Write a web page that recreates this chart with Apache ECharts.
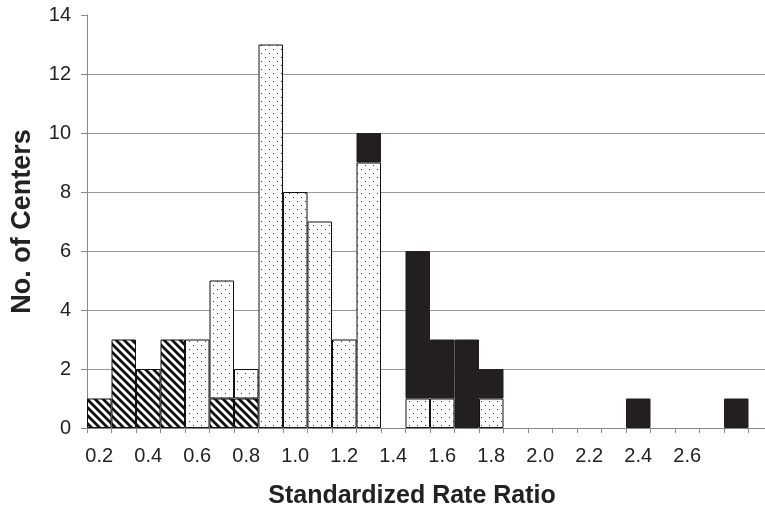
<!DOCTYPE html>
<html>
<head>
<meta charset="utf-8">
<script src="https://cdn.jsdelivr.net/npm/echarts@6/dist/echarts.min.js"></script>
<style>
    html, body { margin: 0; padding: 0; background: #fff; overflow: hidden; }
    #chart { width: 773px; height: 512px; }
</style>
</head>
<body>
<div id="chart"></div>
<script>
// bins of width 0.1, labelled by their centre
var bins = ['0.2', '0.3', '0.4', '0.5', '0.6', '0.7', '0.8', '0.9', '1.0', '1.1',
    '1.2', '1.3', '1.4', '1.5', '1.6', '1.7', '1.8', '1.9', '2.0', '2.1',
    '2.2', '2.3', '2.4', '2.5', '2.6', '2.7', '2.8', '2.9'];
var tickLabels = ['0.2', '0.4', '0.6', '0.8', '1.0', '1.2', '1.4', '1.6', '1.8', '2.0', '2.2', '2.4', '2.6'];

// counts per bin, stacked bottom to top
var hatched = [1, 3, 2, 3, 0, 1, 1, 0, 0, 0, 0, 0, 0, 0, 0, 0, 0, 0, 0, 0, 0, 0, 0, 0, 0, 0, 0, 0];
var dotted  = [0, 0, 0, 0, 3, 4, 1, 13, 8, 7, 3, 9, 0, 1, 1, 0, 1, 0, 0, 0, 0, 0, 0, 0, 0, 0, 0, 0];
var solid   = [0, 0, 0, 0, 0, 0, 0, 0, 0, 0, 0, 1, 0, 5, 2, 3, 1, 0, 0, 0, 0, 0, 1, 0, 0, 0, 1, 0];

function noZero(arr) {
    return arr.map(function (v) { return v === 0 ? null : v; });
}

function stripePattern() {
    var c = document.createElement('canvas');
    c.width = 8;
    c.height = 8;
    var ctx = c.getContext('2d');
    ctx.fillStyle = '#fff';
    ctx.fillRect(0, 0, 8, 8);
    ctx.strokeStyle = '#111';
    ctx.lineWidth = 2.8;
    ctx.beginPath();
    for (var k = -8; k <= 8; k += 8) {
        ctx.moveTo(k - 1, -1);
        ctx.lineTo(k + 9, 9);
    }
    ctx.stroke();
    return c;
}

function dotPattern() {
    var c = document.createElement('canvas');
    c.width = 8;
    c.height = 8;
    var ctx = c.getContext('2d');
    ctx.fillStyle = '#fff';
    ctx.fillRect(0, 0, 8, 8);
    ctx.fillStyle = '#333';
    ctx.fillRect(1, 1, 1, 1);
    ctx.fillRect(5, 5, 1, 1);
    return c;
}

var chart = echarts.init(document.getElementById('chart'));

var option = {
    animation: false,
    backgroundColor: '#fff',
    textStyle: { fontFamily: 'Liberation Sans, Arial, sans-serif' },
    grid: {
        left: 87,
        right: 0,
        top: 15,
        bottom: 84,
        containLabel: false,
        outerBoundsMode: 'none'
    },
    xAxis: {
        type: 'category',
        data: bins,
        boundaryGap: true,
        name: 'Standardized Rate Ratio',
        nameLocation: 'middle',
        nameGap: 56,
        nameTextStyle: {
            fontSize: 25,
            fontWeight: 'bold',
            color: '#222',
            padding: [0, 36, 0, 0]
        },
        axisLine: { lineStyle: { color: '#888', width: 1 } },
        axisTick: { show: true, interval: 0, length: 5, lineStyle: { color: '#888' } },
        axisLabel: {
            interval: 0,
            fontSize: 20,
            color: '#222',
            margin: 18,
            formatter: function (val) {
                return tickLabels.indexOf(val) >= 0 ? val : '';
            }
        },
        splitLine: { show: false }
    },
    yAxis: {
        type: 'value',
        min: 0,
        max: 14,
        interval: 2,
        name: 'No. of Centers',
        nameLocation: 'middle',
        nameGap: 51,
        nameTextStyle: {
            fontSize: 27,
            fontWeight: 'bold',
            color: '#222'
        },
        axisLine: { show: true, lineStyle: { color: '#888', width: 1 } },
        axisTick: { show: true, length: 6, lineStyle: { color: '#888' } },
        axisLabel: { fontSize: 20, color: '#222', margin: 16 },
        splitLine: {
            show: true,
            showMinLine: false,
            showMaxLine: false,
            lineStyle: { color: '#999', width: 1 }
        }
    },
    series: [{
        name: 'hatched',
        type: 'bar',
        stack: 'n',
        barCategoryGap: 0,
        barGap: 0,
        data: noZero(hatched),
        itemStyle: {
            color: { image: stripePattern(), repeat: 'repeat' },
            borderColor: '#111',
            borderWidth: 1
        }
    }, {
        name: 'dotted',
        type: 'bar',
        stack: 'n',
        barCategoryGap: 0,
        data: noZero(dotted),
        itemStyle: {
            color: { image: dotPattern(), repeat: 'repeat' },
            borderColor: '#111',
            borderWidth: 1
        }
    }, {
        name: 'solid',
        type: 'bar',
        stack: 'n',
        barCategoryGap: 0,
        data: noZero(solid),
        itemStyle: {
            color: '#231f20',
            borderColor: '#231f20',
            borderWidth: 1
        }
    }]
};
chart.setOption(option);
</script>
</body>
</html>
